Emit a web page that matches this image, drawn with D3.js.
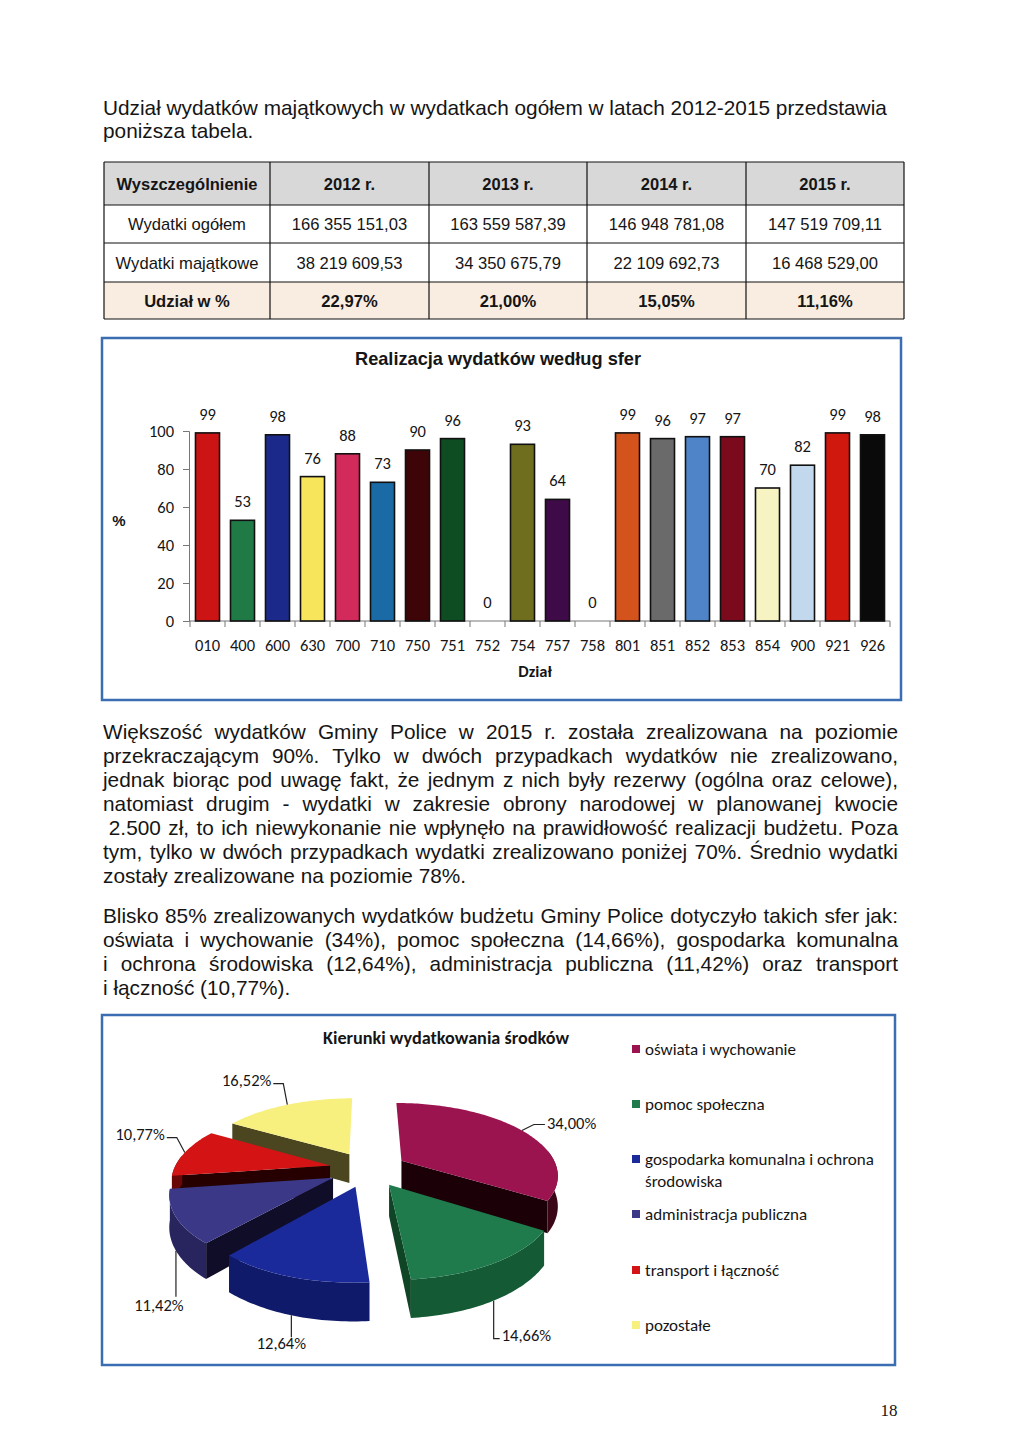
<!DOCTYPE html>
<html><head><meta charset="utf-8">
<script src="https://cdn.jsdelivr.net/npm/d3@7"></script>
<style>body{margin:0;background:#fff}svg{display:block}</style>
</head><body>
<svg id="page" width="1024" height="1456"></svg>
<script>
// ---------- DATA ----------
const introLines = [
  "Udział wydatków majątkowych w wydatkach ogółem w latach 2012-2015 przedstawia",
  "poniższa tabela."
];
const tableHeader = ["Wyszczególnienie", "2012 r.", "2013 r.", "2014 r.", "2015 r."];
const tableRowLabels = ["Wydatki ogółem", "Wydatki majątkowe", "Udział w %"];
const tableRow2012 = ["166 355 151,03", "38 219 609,53", "22,97%"];
const tableRow2013 = ["163 559 587,39", "34 350 675,79", "21,00%"];
const tableRow2014 = ["146 948 781,08", "22 109 692,73", "15,05%"];
const tableRow2015 = ["147 519 709,11", "16 468 529,00", "11,16%"];

const barTitle = "Realizacja wydatków według sfer";
const barCategories = ["010","400","600","630","700","710","750","751","752","754","757","758","801","851","852","853","854","900","921","926"];
const barValues = [99,53,98,76,88,73,90,96,0,93,64,0,99,96,97,97,70,82,99,98];
const barColors = ["#cc1414","#1f7a45","#1b2a8a","#f7e55c","#d22a5a","#1a6aa6","#3d0508","#0e4d22","#888888","#6e6e1e","#3e0a48","#888888","#d4521c","#6a6a6a","#4f84c8","#7a0a1c","#f7f3c2","#c2d8ec","#d0180e","#0a0a0a"];
const yTicks = [0,20,40,60,80,100];
const yAxisLabel = "%";
const xAxisLabel = "Dział";

const para2Lines = [
  "Większość wydatków Gminy Police w 2015 r. została zrealizowana na poziomie",
  "przekraczającym 90%. Tylko w dwóch przypadkach wydatków nie zrealizowano,",
  "jednak biorąc pod uwagę fakt, że jednym z nich były rezerwy (ogólna oraz celowe),",
  "natomiast drugim - wydatki w zakresie obrony narodowej w planowanej kwocie",
  " 2.500 zł, to ich niewykonanie nie wpłynęło na prawidłowość realizacji budżetu. Poza",
  "tym, tylko w dwóch przypadkach wydatki zrealizowano poniżej 70%. Średnio wydatki",
  "zostały zrealizowane na poziomie 78%."
];
const para3Lines = [
  "Blisko 85% zrealizowanych wydatków budżetu Gminy Police dotyczyło takich sfer jak:",
  "oświata i wychowanie (34%), pomoc społeczna (14,66%), gospodarka komunalna",
  "i ochrona środowiska (12,64%), administracja publiczna (11,42%) oraz transport",
  "i łączność (10,77%)."
];

const pieTitle = "Kierunki wydatkowania środków";
const pieCategories = ["oświata i wychowanie","pomoc społeczna","gospodarka komunalna i ochrona|środowiska","administracja publiczna","transport i łączność","pozostałe"];
const pieValues = [34.00, 14.66, 12.64, 11.42, 10.77, 16.52];
const pieValueLabels = ["34,00%","14,66%","12,64%","11,42%","10,77%","16,52%"];
const pieTopColors = ["#9b1450","#1f7a4c","#1a2a9a","#3b3888","#d41414","#f7f07e"];
const pieSideColors = ["#3a0618","#145a34","#0f1a6a","#27245e","#6a0808","#4b4620"];
const pieCutColors = ["#1c0008","#0f4425","#0a1040","#100d28","#260000","#4b4620"];
const pageNumber = "18";

// ---------- STYLE ----------
const F_BODY = "'Liberation Sans', Arial, sans-serif";
const F_CAL = "Carlito, Lato, 'Open Sans', sans-serif";
const F_SERIF = "'Liberation Serif', 'Times New Roman', serif";
const INK = "#151515";
const FRAME = "#3b6db3";

const svg = d3.select("#page");
svg.append("rect").attr("width",1024).attr("height",1456).attr("fill","#fff");

// ---------- TEXT PARAGRAPHS ----------
function textLine(g, text, x0, x1, y, size, justify) {
  const lead = text.startsWith(" ") ? size*0.278 : 0;
  const words = text.trim().split(/\s+/);
  const nodes = words.map(w => g.append("text").attr("y", y)
      .attr("font-family", F_BODY).attr("font-size", size).attr("fill", INK).text(w));
  const widths = nodes.map(n => n.node().getComputedTextLength());
  const gap = justify && words.length > 1
      ? (x1 - x0 - lead - d3.sum(widths)) / (words.length - 1)
      : size * 0.278;
  let x = x0 + lead;
  nodes.forEach((n, i) => { n.attr("x", x); x += widths[i] + gap; });
}
const gText = svg.append("g");
const BODY = 20.8;
introLines.forEach((l, i) => textLine(gText, l, 103, 898, 115 + i*23, BODY, false));
para2Lines.forEach((l, i) => textLine(gText, l, 103, 898, 739 + i*24, BODY, i < para2Lines.length - 1));
para3Lines.forEach((l, i) => textLine(gText, l, 103, 898, 923 + i*24, BODY, i < para3Lines.length - 1));

// ---------- TABLE ----------
const colX = [104, 270, 429, 587, 746, 904];
const rowY = [162, 205, 243, 282, 319];
const gT = svg.append("g");
gT.append("rect").attr("x",colX[0]).attr("y",rowY[0]).attr("width",colX[5]-colX[0]).attr("height",rowY[1]-rowY[0]).attr("fill","#d8d8d8");
gT.append("rect").attr("x",colX[0]).attr("y",rowY[3]).attr("width",colX[5]-colX[0]).attr("height",rowY[4]-rowY[3]).attr("fill","#f9ede2");
rowY.forEach(y => gT.append("line").attr("x1",colX[0]).attr("x2",colX[5]).attr("y1",y).attr("y2",y).attr("stroke","#111").attr("stroke-width",1.2));
colX.forEach(x => gT.append("line").attr("x1",x).attr("x2",x).attr("y1",rowY[0]).attr("y2",rowY[4]).attr("stroke","#111").attr("stroke-width",1.2));
const tableCols = [tableRowLabels, tableRow2012, tableRow2013, tableRow2014, tableRow2015];
tableHeader.forEach((h, c) => {
  gT.append("text").attr("x",(colX[c]+colX[c+1])/2).attr("y",(rowY[0]+rowY[1])/2+6)
    .attr("text-anchor","middle").attr("font-family",F_BODY).attr("font-weight","bold")
    .attr("font-size",16.5).attr("fill",INK).text(h);
});
tableCols.forEach((col, c) => col.forEach((v, r) => {
  gT.append("text").attr("x",(colX[c]+colX[c+1])/2).attr("y",(rowY[r+1]+rowY[r+2])/2+6)
    .attr("text-anchor","middle").attr("font-family",F_BODY)
    .attr("font-weight", r === 2 ? "bold" : "normal")
    .attr("font-size",16.6).attr("fill",INK).text(v);
}));

// ---------- BAR CHART ----------
const gB = svg.append("g");
gB.append("rect").attr("x",102).attr("y",338).attr("width",799).attr("height",362)
  .attr("fill","#fff").attr("stroke",FRAME).attr("stroke-width",2.5);
gB.append("text").attr("x",498).attr("y",365).attr("text-anchor","middle")
  .attr("font-family",F_BODY).attr("font-weight","bold").attr("font-size",18.5)
  .attr("textLength",286).attr("lengthAdjust","spacingAndGlyphs").attr("fill",INK).text(barTitle);

const x = d3.scaleBand().domain(barCategories).range([190, 890]).paddingInner(0.314).paddingOuter(0.157);
const y = d3.scaleLinear().domain([0, 100]).range([621, 431]);

const yAxis = gB.append("g").attr("transform","translate(189,0)")
  .call(d3.axisLeft(y).tickValues(yTicks).tickSize(6).tickPadding(9));
yAxis.select(".domain").attr("stroke","#777");
yAxis.selectAll(".tick line").attr("stroke","#777");
yAxis.selectAll(".tick text").attr("font-family",F_CAL).attr("font-size",16.5).attr("fill",INK);

// x axis line with boundary ticks
const x0 = x.range()[0], step = x.step();
gB.append("line").attr("x1",x0-1).attr("x2",x0+step*barCategories.length).attr("y1",y(0)).attr("y2",y(0)).attr("stroke","#777");
d3.range(barCategories.length+1).forEach(i => {
  gB.append("line").attr("x1",x0+i*step).attr("x2",x0+i*step).attr("y1",y(0)).attr("y2",y(0)+6).attr("stroke","#777");
});
gB.selectAll(".xl").data(barCategories).join("text")
  .attr("x", d => x(d) + x.bandwidth()/2).attr("y", 651).attr("text-anchor","middle")
  .attr("font-family",F_CAL).attr("font-size",16.5).attr("fill",INK).text(d => d);

gB.selectAll(".bar").data(barValues).join("rect")
  .attr("x",(d,i)=>x(barCategories[i])).attr("width",x.bandwidth())
  .attr("y",d=>y(d)).attr("height",d=>y(0)-y(d))
  .attr("fill",(d,i)=>barColors[i]).attr("stroke",d=>d>0?"#111":"none").attr("stroke-width",1.6);
gB.selectAll(".vl").data(barValues).join("text")
  .attr("x",(d,i)=>x(barCategories[i])+x.bandwidth()/2).attr("y",d=>y(d)-13)
  .attr("text-anchor","middle").attr("font-family",F_CAL).attr("font-size",16.5).attr("fill",INK).text(d=>d);

gB.append("text").attr("x",119).attr("y",526).attr("text-anchor","middle")
  .attr("font-family",F_BODY).attr("font-weight","bold").attr("font-size",15).attr("fill",INK).text(yAxisLabel);
gB.append("text").attr("x",535).attr("y",677).attr("text-anchor","middle")
  .attr("font-family",F_CAL).attr("font-weight","bold").attr("font-size",16.5).attr("fill",INK).text(xAxisLabel);

// ---------- PIE CHART ----------
const gP = svg.append("g");
gP.append("rect").attr("x",102).attr("y",1015).attr("width",793).attr("height",350)
  .attr("fill","#fff").attr("stroke",FRAME).attr("stroke-width",2.5);
gP.append("text").attr("x",446).attr("y",1044).attr("text-anchor","middle")
  .attr("font-family",F_CAL).attr("font-weight","bold").attr("font-size",18.2).attr("fill",INK).text(pieTitle);

const P = {cx:368, cy:1169, rx:156, ry:71, p:0.183, h:30, e:0.25};
function proj(X, Y, z) { const k = 1/(1 - P.p*Y); return [P.cx + P.rx*X*k, P.cy + (P.ry*Y + z)*k]; }
const arcs = d3.pie().sort(null).value(d=>d).startAngle(0).endAngle(2*Math.PI)(pieValues);
const line = d3.line();
function arcPts(ox, oy, a0, a1, z) {
  const n = Math.max(2, Math.ceil((a1-a0)/0.02));
  return d3.range(n+1).map(i => { const t = a0 + (a1-a0)*i/n; return proj(ox+Math.sin(t), oy-Math.cos(t), z); });
}
const slices = arcs.map((a, i) => {
  const mid = (a.startAngle + a.endAngle)/2;
  return {i, a, mid, ox: P.e*Math.sin(mid), oy: -P.e*Math.cos(mid)};
}).sort((s, t) => s.oy - t.oy);

slices.forEach(s => {
  const {a, ox, oy, i} = s;
  const g = gP.append("g");
  const cut = (ang) => [proj(ox,oy,0), proj(ox+Math.sin(ang), oy-Math.cos(ang), 0),
                        proj(ox+Math.sin(ang), oy-Math.cos(ang), P.h), proj(ox,oy,P.h)];
  if (-Math.sin(a.startAngle) > 0.01) g.append("path").attr("d", line(cut(a.startAngle))+"Z").attr("fill", pieCutColors[i]);
  if (Math.sin(a.endAngle) > 0.01) g.append("path").attr("d", line(cut(a.endAngle))+"Z").attr("fill", pieCutColors[i]);
  let b0 = a.startAngle, b1 = a.endAngle;
  const lo = Math.acos(0.15), hi = 2*Math.PI - Math.acos(0.15);
  b0 = Math.max(b0, lo); b1 = Math.min(b1, hi);
  if (b1 > b0) {
    const pts = arcPts(ox, oy, b0, b1, 0).concat(arcPts(ox, oy, b0, b1, P.h).reverse());
    g.append("path").attr("d", line(pts)+"Z").attr("fill", pieSideColors[i]);
  }
  const top = [proj(ox,oy,0)].concat(arcPts(ox, oy, a.startAngle, a.endAngle, 0));
  g.append("path").attr("d", line(top)+"Z").attr("fill", pieTopColors[i]);
});

// leader lines + value labels (relative to slice anchor)
const leaders = [
  {pts:[[12,-6],[23,-6]], tx:25, ty:-1, anchor:"start"},
  {pts:[[0,38],[6,38]], tx:8, ty:40, anchor:"start"},
  {pts:[[0,22]], tx:-10, ty:34, anchor:"middle"},
  {pts:[[0,46]], tx:-17, ty:60, anchor:"middle"},
  {pts:[[-8,-15],[-18,-15]], tx:-20, ty:-13, anchor:"end"},
  {pts:[[-4,-21],[-14,-21]], tx:-16, ty:-19, anchor:"end"}
];
slices.forEach(s => {
  const {ox, oy, mid, i} = s;
  const front = -Math.cos(mid) > 0.3;
  const A = proj(ox+Math.sin(mid), oy-Math.cos(mid), front ? P.h : 0);
  const L = leaders[i];
  const pts = [A].concat(L.pts.map(p => [A[0]+p[0], A[1]+p[1]]));
  gP.append("path").attr("d", line(pts)).attr("fill","none").attr("stroke","#222").attr("stroke-width",1.2);
  gP.append("text").attr("x",A[0]+L.tx).attr("y",A[1]+L.ty).attr("text-anchor",L.anchor)
    .attr("font-family",F_CAL).attr("font-size",16.5).attr("fill",INK).text(pieValueLabels[i]);
});

// legend
const legY = [1049, 1104, 1159, 1214, 1270, 1325];
pieCategories.forEach((c, i) => {
  gP.append("rect").attr("x",632).attr("y",legY[i]-4).attr("width",8).attr("height",8).attr("fill",pieTopColors[i]);
  c.split("|").forEach((part, j) => {
    gP.append("text").attr("x",645).attr("y",legY[i]+5.5+j*22).attr("font-family",F_CAL)
      .attr("font-size",17).attr("fill",INK).text(part);
  });
});

// page number
svg.append("text").attr("x",889).attr("y",1416).attr("text-anchor","middle")
  .attr("font-family",F_SERIF).attr("font-size",17).attr("fill",INK).text(pageNumber);
</script>
</body></html>
